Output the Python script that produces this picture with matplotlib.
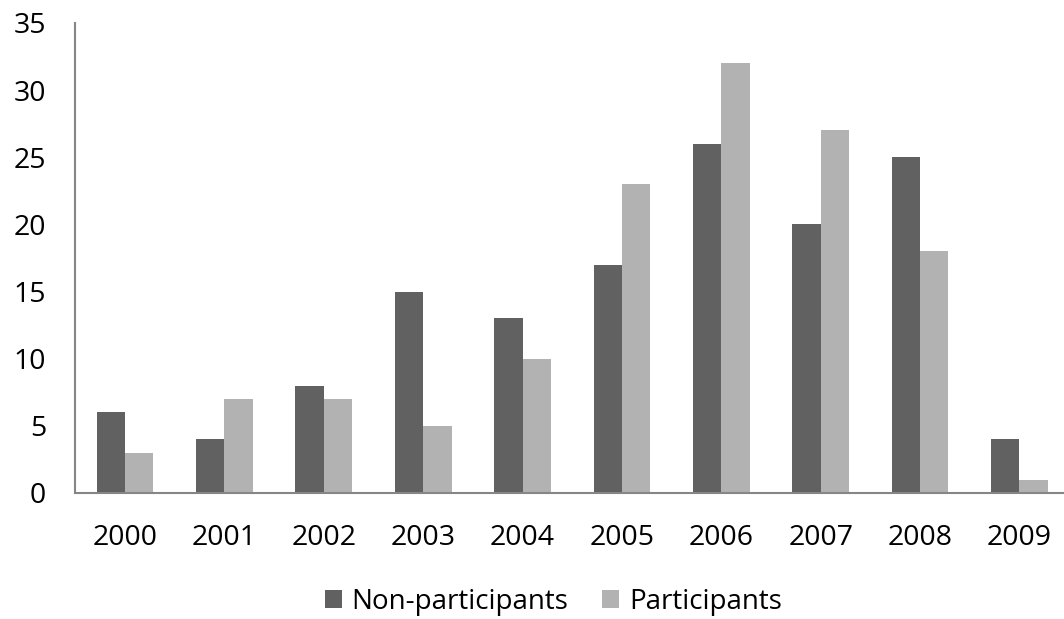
import matplotlib
matplotlib.use("Agg")
import matplotlib.pyplot as plt
import numpy as np

years = ["2000", "2001", "2002", "2003", "2004", "2005", "2006", "2007", "2008", "2009"]
non_participants = [6, 4, 8, 15, 13, 17, 26, 20, 25, 4]
participants = [3, 7, 7, 5, 10, 23, 32, 27, 18, 1]
y_ticks = [0, 5, 10, 15, 20, 25, 30, 35]

plt.rcParams["font.family"] = ["Open Sans", "DejaVu Sans"]

fig = plt.figure(figsize=(10.64, 6.19), dpi=100)
ax = fig.add_axes([0.0708, 0.2036, 0.934, 0.7593])

x = np.arange(len(years))
w = 0.2857
ax.bar(x - w / 2, non_participants, width=w, color="#616161", label="Non-participants")
ax.bar(x + w / 2, participants, width=w, color="#b2b2b2", label="Participants")

ax.set_xlim(-0.5, len(years) - 0.5)
ax.set_ylim(0, 35)
ax.set_yticks(y_ticks)
ax.set_xticks(x)
ax.set_xticklabels(years)

for side in ["top", "right"]:
    ax.spines[side].set_visible(False)
for side in ["left", "bottom"]:
    ax.spines[side].set_color("#868686")
    ax.spines[side].set_linewidth(1.5)

ax.tick_params(axis="both", length=0, labelsize=20.5, colors="black")
ax.tick_params(axis="y", pad=21)
ax.tick_params(axis="x", pad=22)

fig.legend(loc="center", bbox_to_anchor=(0.52, 0.028), ncol=2, frameon=False,
           fontsize=20, handlelength=0.62, handleheight=0.62, handletextpad=0.35,
           columnspacing=1.2)

fig.savefig("out.png", dpi=100)
